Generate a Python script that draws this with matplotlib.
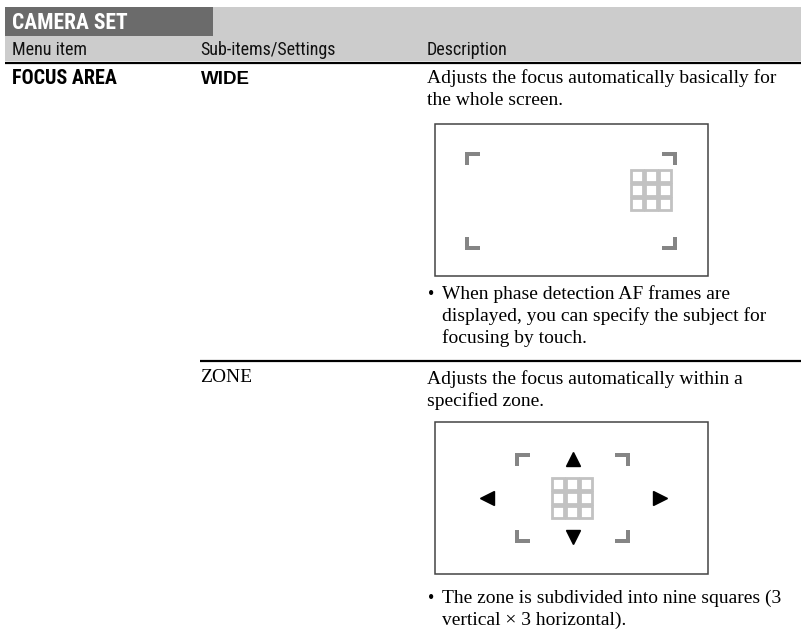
import matplotlib
matplotlib.use("Agg")
import matplotlib.pyplot as plt
from matplotlib.patches import Rectangle

# Page texts
section_title = "CAMERA SET"
column_heads = ["Menu item", "Sub-items/Settings", "Description"]
menu_item = "FOCUS AREA"
settings = ["WIDE", "ZONE"]
descriptions = [
    ["Adjusts the focus automatically basically for", "the whole screen."],
    ["Adjusts the focus automatically within a", "specified zone."],
]
notes = [
    ["When phase detection AF frames are",
     "displayed, you can specify the subject for",
     "focusing by touch."],
    ["The zone is subdivided into nine squares (3",
     "vertical \u00d7 3 horizontal)."],
]

COND = ["Roboto Condensed", "Liberation Sans Narrow", "DejaVu Sans Condensed", "Roboto"]
SERIF = ["Liberation Serif", "DejaVu Serif"]
SANS = ["Liberation Sans", "DejaVu Sans"]

fig = plt.figure(figsize=(8.01, 6.32), dpi=100)
ax = fig.add_axes([0, 0, 1, 1])
ax.set_xlim(0, 801)
ax.set_ylim(632, 0)
ax.axis("off")

# header bands
ax.add_patch(Rectangle((5, 7), 796, 54, color="#cccccc", lw=0))
ax.add_patch(Rectangle((5, 7), 208, 29, color="#6b6b6b", lw=0))
ax.text(12, 29, section_title, color="white", fontsize=15.5, fontweight="bold",
        family=COND, fontstretch="condensed", va="baseline")
for x, t in zip([12, 200, 427], column_heads):
    ax.text(x, 55, t, fontsize=13, family=COND, fontstretch="condensed",
            va="baseline", color="#111111")
ax.plot([5, 801], [62.5, 62.5], color="black", lw=1.6, solid_capstyle="butt")

ax.text(12, 84, menu_item, fontsize=14.5, fontweight="bold", family=COND,
        fontstretch="condensed", va="baseline")
ax.text(201, 84, settings[0], fontsize=13.5, fontweight="bold", family=SANS, va="baseline")
ax.text(200, 382, settings[1], fontsize=14, family=SERIF, va="baseline")
ax.plot([200, 801], [361, 361], color="black", lw=1.6, solid_capstyle="butt")


def draw_lines(x, y0, lines, bullet=False):
    for i, t in enumerate(lines):
        y = y0 + 22 * i
        if bullet and i == 0:
            ax.text(x, y, "\u2022", fontsize=13, family=SERIF, va="baseline")
        ax.text(x + (14 if bullet else 0), y, t, fontsize=14, family=SERIF,
                va="baseline")


draw_lines(427, 83, descriptions[0])
draw_lines(428, 299, notes[0], bullet=True)
draw_lines(427, 384, descriptions[1])
draw_lines(428, 603, notes[1], bullet=True)

BR = "#858585"
GRID = "#c2c2c2"


def bracket(x, y, sx, sy, arm=15, th=4):
    # x, y is the outer corner; sx, sy direction of arms
    ax.add_patch(Rectangle((x, y), sx * arm, sy * th, color=BR, lw=0))
    ax.add_patch(Rectangle((x, y), sx * th, sy * (arm - 2), color=BR, lw=0))


def brackets(x0, y0, x1, y1):
    bracket(x0, y0, 1, 1)
    bracket(x1, y0, -1, 1)
    bracket(x0, y1, 1, -1)
    bracket(x1, y1, -1, -1)


def grid9(x0, y0, cell=14):
    for r in range(3):
        for c in range(3):
            ax.add_patch(Rectangle((x0 + c * cell + 1.4, y0 + r * cell + 1.4),
                                   cell - 2.8, cell - 2.8, facecolor="white",
                                   edgecolor=GRID, lw=2.0))


# WIDE screen
ax.add_patch(Rectangle((435, 124), 273, 152, facecolor="white",
                       edgecolor="#444444", lw=1.1))
brackets(465, 152, 677, 250)
grid9(630, 169)

# ZONE screen
ax.add_patch(Rectangle((435, 422), 273, 152, facecolor="white",
                       edgecolor="#444444", lw=1.1))
brackets(515, 453, 630, 543)
grid9(551, 477)
ax.plot([573], [459], marker="^", color="black", ms=10, lw=0)
ax.plot([573], [537], marker="v", color="black", ms=10, lw=0)
ax.plot([487], [498], marker="<", color="black", ms=10, lw=0)
ax.plot([660], [498], marker=">", color="black", ms=10, lw=0)

fig.savefig("out.png", dpi=100)
